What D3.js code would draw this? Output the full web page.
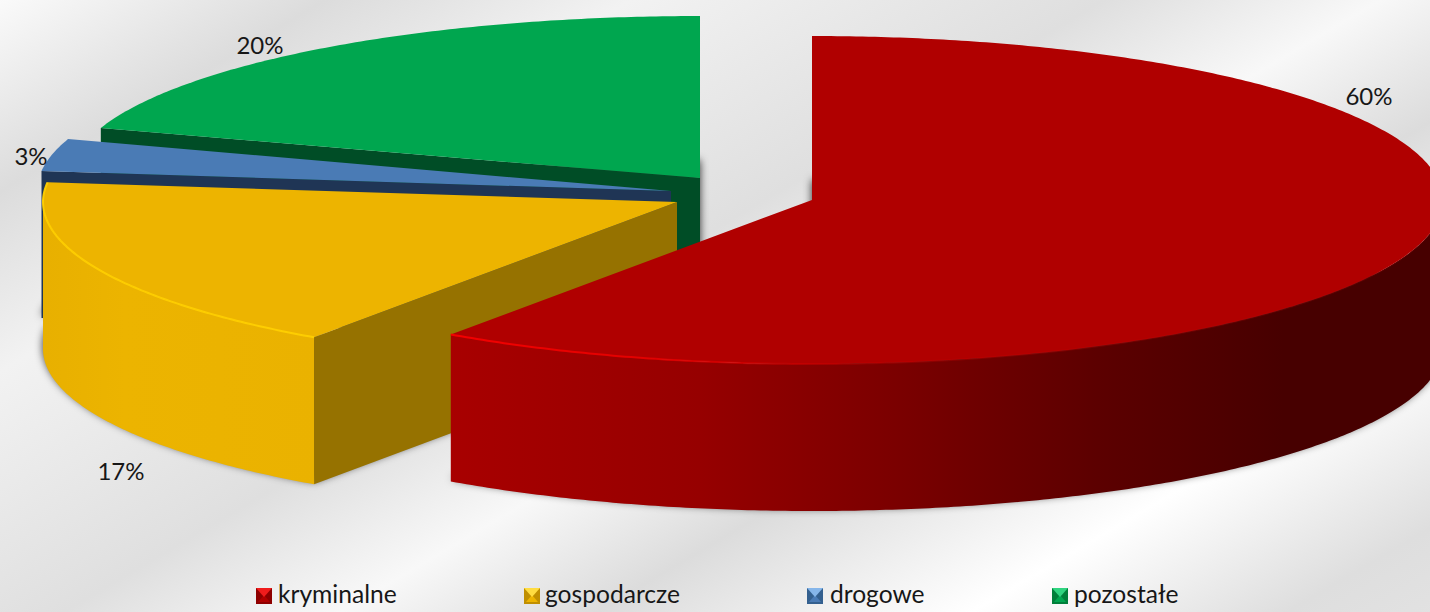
<!DOCTYPE html>
<html><head><meta charset="utf-8">
<script src="https://cdn.jsdelivr.net/npm/d3@7"></script>
<style>html,body{margin:0;padding:0;background:#fff;overflow:hidden}svg{display:block}text{font-family:Lato,"Open Sans",sans-serif;fill:#171717}</style>
</head><body><div id="chart"></div>
<script>
const categories = ["kryminalne","gospodarcze","drogowe","pozostałe"];
const values = [59.7,17.2,3.1,20.0];
const colorsTop = ["#b00000","#edb400","#4a7bb5","#00a64f"];
const colorsFace = ["#8a0000","#967200","#1f3555","#004d26"];
const apexX = [812,677,671,700];
const apexY = [200,202,191,178];
const radiusX = [631,634,634,630];
const radiusY = [164,165,168,162];
const depth = 147;
const labelX = [1369,121,31,260];
const labelY = [95,470,155,44];
const legendSwatchX = [256,524,807,1052];
const legendTextX = [278,545,830,1074];

const W=1430,H=612;
const svg=d3.select("#chart").append("svg").attr("width",W).attr("height",H);
const defs=svg.append("defs");

// background: diagonal soft bands
const bgLen=1300, dirX=0.507, dirY=0.862;
const bgStops=[[0,"#fafafa"],[165,"#dcdcdc"],[320,"#f2f2f2"],[560,"#dfdfdf"],[700,"#f8f8f8"],[830,"#dcdcdc"],[1020,"#ffffff"],[1180,"#dedede"],[1300,"#e4e4e4"]];
const bg=defs.append("linearGradient").attr("id","bg").attr("gradientUnits","userSpaceOnUse")
  .attr("x1",0).attr("y1",0).attr("x2",dirX*bgLen).attr("y2",dirY*bgLen);
bg.selectAll("stop").data(bgStops).join("stop").attr("offset",d=>d[0]/bgLen).attr("stop-color",d=>d[1]);
svg.append("rect").attr("width",W).attr("height",H).attr("fill","url(#bg)");

defs.append("filter").attr("id","soft").attr("x","-10%").attr("y","-10%").attr("width","120%").attr("height","120%")
  .append("feGaussianBlur").attr("stdDeviation",4);

// wall gradients
const wallStops=[
 [[0,"#a80000"],[.255,"#960000"],[.46,"#7a0000"],[.66,"#5c0000"],[.85,"#470000"],[1,"#470000"]],
 [[0,"#e8b000"],[.3,"#ecb400"],[1,"#eab200"]],
 [[0,"#1f3555"],[1,"#1f3555"]],
 [[0,"#004d26"],[1,"#004d26"]]
];
const wallRange=[[450,1430],[43,315],[42,80],[100,700]];
wallStops.forEach((st,i)=>{
  const g=defs.append("linearGradient").attr("id","wall"+i).attr("gradientUnits","userSpaceOnUse")
    .attr("x1",wallRange[i][0]).attr("x2",wallRange[i][1]).attr("y1",0).attr("y2",0);
  g.selectAll("stop").data(st).join("stop").attr("offset",d=>d[0]).attr("stop-color",d=>d[1]);
});
// rim highlights: red fades out along the front edge, yellow stays bright
const rimStops=[
 [[0,"#f40000",1],[.2,"#e80000",.9],[.42,"#c80000",.35],[1,"#c00000",.15]],
 [[0,"#ffcf00",.95],[1,"#ffcf00",.95]]
];
const rimRange=[[450,1430],[43,315]];
rimStops.forEach((st,i)=>{
  const g=defs.append("linearGradient").attr("id","rim"+i).attr("gradientUnits","userSpaceOnUse")
    .attr("x1",rimRange[i][0]).attr("x2",rimRange[i][1]).attr("y1",0).attr("y2",0);
  g.selectAll("stop").data(st).join("stop").attr("offset",d=>d[0]).attr("stop-color",d=>d[1]).attr("stop-opacity",d=>d[2]);
});

const pie=d3.pie().sort(null).value(d=>d)(values);
const line=d3.line();

function projector(i){
  const sx=d3.scaleLinear().domain([-1,1]).range([apexX[i]-radiusX[i],apexX[i]+radiusX[i]]);
  const sy=d3.scaleLinear().domain([-1,1]).range([apexY[i]+radiusY[i],apexY[i]-radiusY[i]]);
  return (a,dz=0)=>[sx(Math.sin(a)),sy(Math.cos(a))+dz];
}
function arcPts(p,a0,a1,dz=0){
  const n=Math.max(2,Math.ceil((a1-a0)/0.01));
  return d3.range(n+1).map(k=>p(a0+(a1-a0)*k/n,dz));
}

const order=[3,2,1,0];
// shadows first
const shadows=svg.append("g").attr("filter","url(#soft)");
order.forEach(i=>{
  const s=pie[i],p=projector(i);
  const pts=[[apexX[i],apexY[i]+depth-3],...arcPts(p,s.startAngle,s.endAngle,depth-3)];
  shadows.append("path").attr("d",line(pts)+"Z").attr("fill","#000").attr("opacity",.8);
});

order.forEach(i=>{
  const s=pie[i],p=projector(i),ax=apexX[i],ay=apexY[i];
  const g=svg.append("g").attr("class","slice");
  // cut face
  if(s.startAngle>=Math.PI){
    const e=p(s.startAngle);
    g.append("path").attr("d",line([[ax,ay],e,[e[0],e[1]+depth],[ax,ay+depth]])+"Z").attr("fill",colorsFace[i]);
  }
  // outer wall (front half only)
  const w0=Math.max(s.startAngle,Math.PI/2),w1=Math.min(s.endAngle,Math.PI*1.5);
  if(w1>w0){
    const pts=[...arcPts(p,w0,w1),...arcPts(p,w0,w1,depth).reverse()];
    g.append("path").attr("d",line(pts)+"Z").attr("fill",`url(#wall${i})`);
  }
  // top
  g.append("path").attr("d",line([[ax,ay],...arcPts(p,s.startAngle,s.endAngle)])+"Z").attr("fill",colorsTop[i]);
  // rim highlight
  if(i<2){
    g.append("path").attr("d",line(arcPts(p,w0,s.endAngle))).attr("fill","none")
      .attr("stroke",`url(#rim${i})`).attr("stroke-width",2);
  }
});

// data labels
svg.selectAll("text.lab").data(values).join("text").attr("class","lab")
  .attr("x",(d,i)=>labelX[i]).attr("y",(d,i)=>labelY[i]).attr("text-anchor","middle").attr("dominant-baseline","central")
  .attr("font-size",24).text(d=>Math.round(d)+"%");

// legend
const swDark=["#8e0000","#c08f00","#34608f","#007f3a"];
const swLight=["#f01c1c","#ffdc40","#86b6ea","#30d480"];
categories.forEach((c,i)=>{
  const x=legendSwatchX[i],y=588,s=16;
  const g=svg.append("g").attr("class","legend");
  g.append("rect").attr("x",x).attr("y",y).attr("width",s).attr("height",s).attr("fill",swDark[i]);
  g.append("path").attr("d",line([[x+2,y+s-2],[x+s/2,y+7],[x+s-2,y+s-2]])+"Z").attr("fill",colorsTop[i]);
  g.append("path").attr("d",line([[x,y],[x+s,y],[x+s/2,y+9]])+"Z").attr("fill",swLight[i]);
  g.append("text").attr("x",legendTextX[i]).attr("y",603).attr("font-size",24.6).text(c);
});
</script></body></html>
